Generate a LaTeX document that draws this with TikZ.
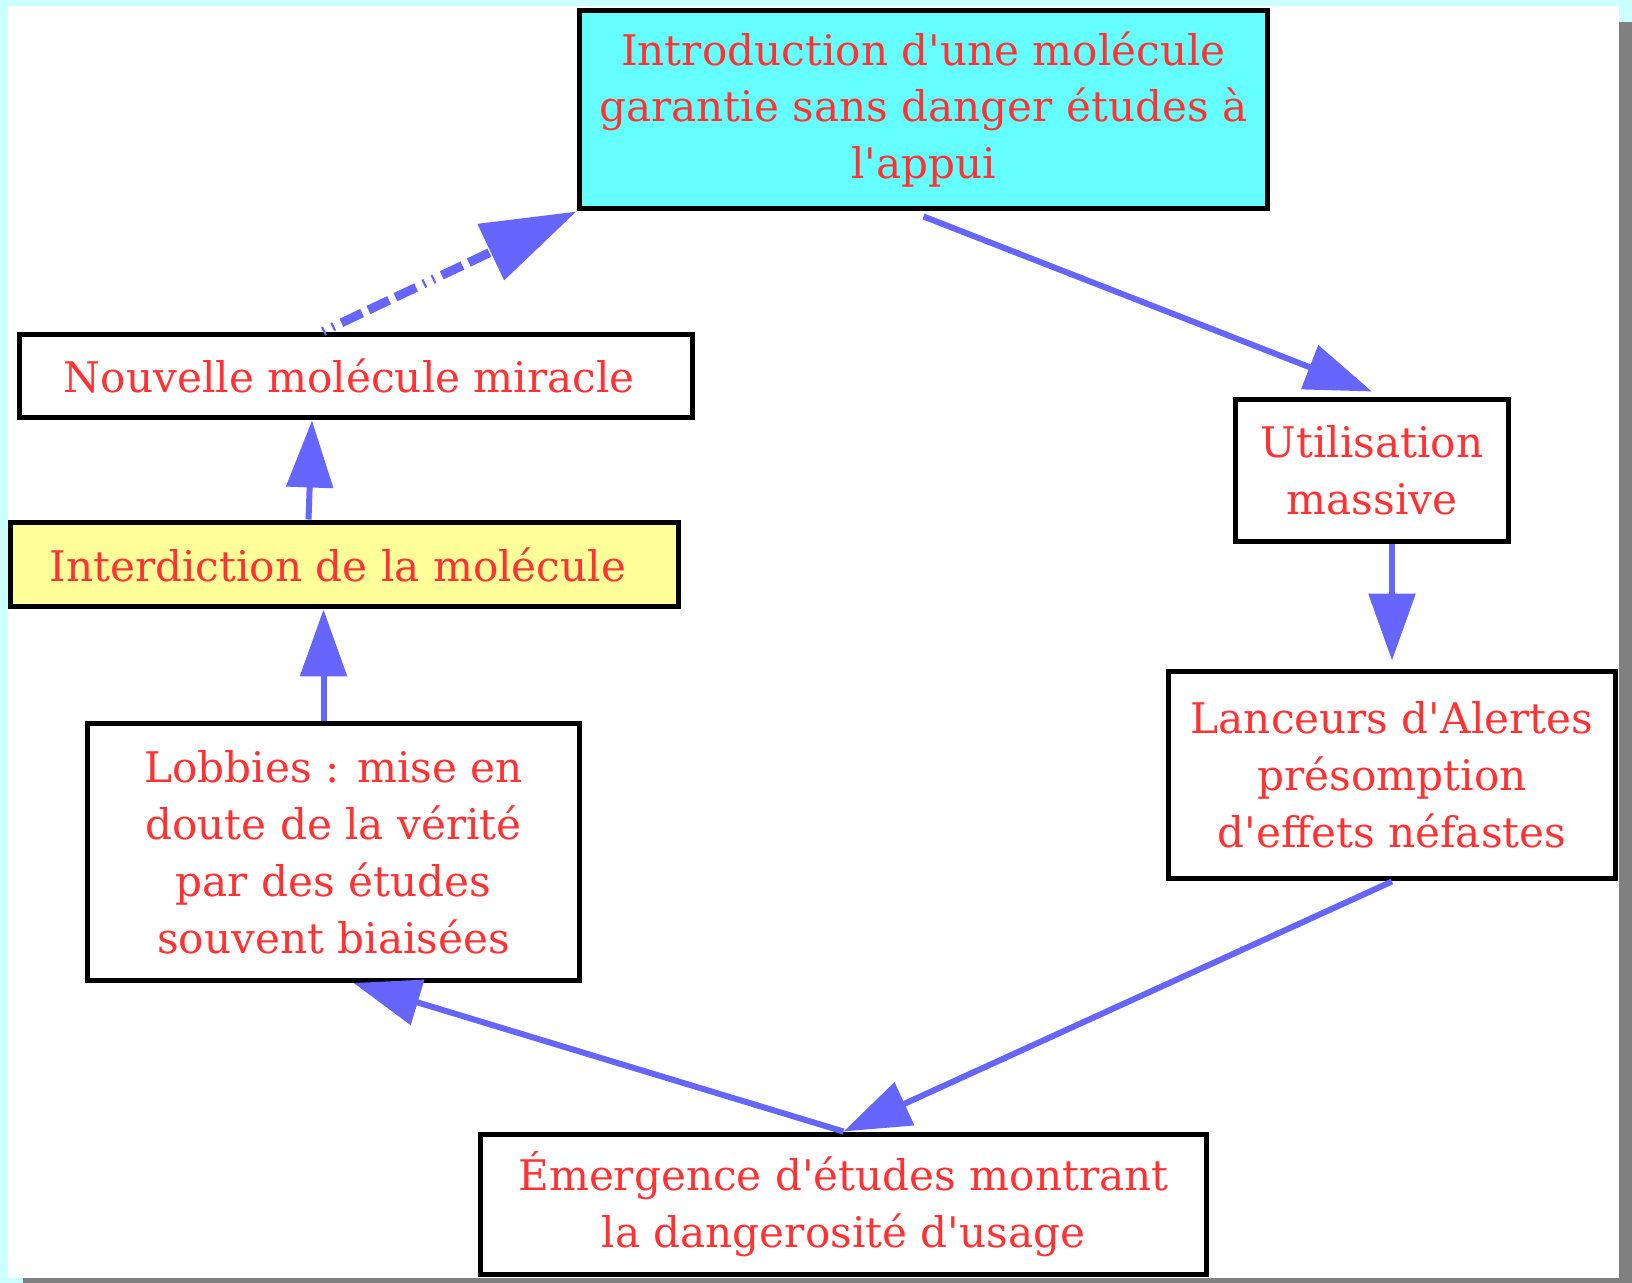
\documentclass[tikz,border=0pt]{standalone}
\usepackage{fontspec}
\setmainfont{DejaVu Serif}
\usetikzlibrary{arrows.meta}

\definecolor{pagecyan}{HTML}{CCFFFF}
\definecolor{shadowgray}{HTML}{808080}
\definecolor{boxcyan}{HTML}{66FFFF}
\definecolor{boxyellow}{HTML}{FFFF99}
\definecolor{textred}{HTML}{FF3333}
\definecolor{arrowblue}{HTML}{6666FF}
\newcommand{\apos}{\textquotesingle}

\begin{document}
\begin{tikzpicture}[x=0.02cm, y=-0.02cm,
        stepbox/.style={draw=black, line width=0.1cm, fill=white, inner sep=0pt,
            align=center, text=textred, font=\fontsize{24}{32.4}\selectfont},
        flow/.style={draw=arrowblue, line width=0.12cm,
            -{Triangle[length=1.34cm, width=0.92cm]}},
        flowdash/.style={draw=arrowblue, line width=0.18cm,
            dash pattern=on 1.2pt off 4.6pt on 1.2pt off 4.6pt on 13pt off 4pt on 13pt off 4pt on 13pt off 4.6pt,
            -{Triangle[length=1.9cm, width=1.2cm]}}]

    % page and shadow
    \fill[pagecyan] (0, 0) rectangle (1632, 1283);
    \fill[white] (8, 6) rectangle (1619, 1278);
    \fill[shadowgray] (1619, 22) rectangle (1632, 1283);
    \fill[shadowgray] (23, 1278) rectangle (1632, 1283);

    \node[stepbox, fill=boxcyan, minimum width=13.78cm, minimum height=3.98cm] (intro) at (923.5, 109.5)
        { Introduction d\apos une molécule\\ garantie sans danger études à\\ l\apos appui };
    \node[stepbox, minimum width=13.48cm, minimum height=1.68cm] (nouvelle) at (356, 376)
        { Nouvelle molécule miracle };
    \node[stepbox, fill=boxyellow, minimum width=13.38cm, minimum height=1.7cm] (interdiction) at (344.5, 564.5)
        { Interdiction de la molécule };
    \node[stepbox, minimum width=9.86cm, minimum height=5.14cm] (lobbies) at (333.5, 852)
        { Lobbies : mise en\\ doute de la vérité\\ par des études\\ souvent biaisées };
    \node[stepbox, minimum width=5.48cm, minimum height=2.86cm] (utilisation) at (1372, 470.5)
        { Utilisation\\ massive };
    \node[stepbox, minimum width=8.96cm, minimum height=4.16cm] (lanceurs) at (1392, 775)
        { Lanceurs d\apos Alertes\\ présomption\\ d\apos effets néfastes };
    \node[stepbox, minimum width=14.54cm, minimum height=2.82cm] (emergence) at (843.5, 1204.5)
        { Émergence d\apos études montrant\\ la dangerosité d\apos usage };

    % cycle
    \draw[flow] ([yshift=-0.1cm]intro.south) -- ([yshift=0.1cm]utilisation.north);
    \draw[flow] (utilisation.south -| lanceurs.north) -- ([yshift=0.16cm]lanceurs.north);
    \draw[flow] (lanceurs.south) -- (emergence.north);
    \draw[flow] (emergence.north) -- ([xshift=0.4cm]lobbies.south);
    \draw[flow] ([xshift=-0.2cm]lobbies.north) -- ([xshift=-0.2cm]lobbies.north |- interdiction.south);
    \draw[flow] ([xshift=-0.72cm]interdiction.north) -- ([xshift=-0.88cm]nouvelle.south);
    \draw[flowdash] ([xshift=-0.66cm]nouvelle.north) -- (intro.south west);
\end{tikzpicture}
\end{document}
